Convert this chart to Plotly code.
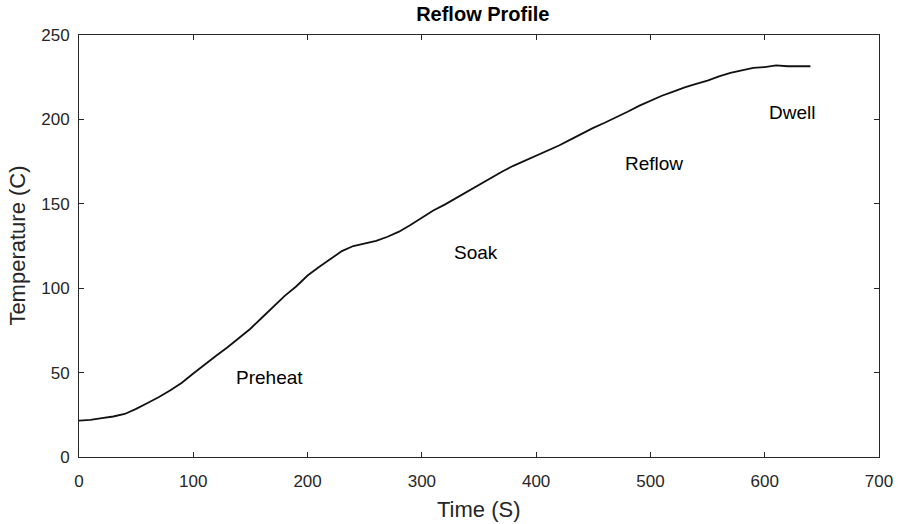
import plotly.graph_objects as go

time_s = list(range(0, 650, 10))
temp_c = [21.5, 22.0, 23.0, 24.0, 25.5, 28.5, 32.0, 35.5, 39.5, 44.0,
          49.5, 55.0, 60.0, 65.0, 70.5, 76.0, 82.5, 89.0, 95.5, 101.0,
          107.5, 112.5, 117.5, 122.0, 125.0, 126.5, 128.0, 130.5, 133.5, 137.5,
          142.0, 146.0, 149.5, 153.5, 157.5, 161.5, 165.5, 169.0, 172.5, 175.5,
          178.5, 181.5, 184.5, 188.0, 191.5, 195.0, 198.0, 201.5, 204.5, 208.0,
          211.0, 214.0, 216.5, 219.0, 221.0, 223.0, 225.5, 227.5, 229.0, 230.5,
          231.0, 232.0, 231.5, 231.5, 231.5]

phase_labels = ["Preheat", "Soak", "Reflow", "Dwell"]
phase_x = [136, 326, 476, 602]
phase_y = [47, 121, 174, 204]

x_ticks = [0, 100, 200, 300, 400, 500, 600, 700]
y_ticks = [0, 50, 100, 150, 200, 250]

font_family = "Liberation Sans, Arial, sans-serif"
axis_color = "#262626"

W, H = 905, 524
ML, MR, MT, MB = 79, 18, 35, 67
PW, PH = W - ML - MR, H - MT - MB

fig = go.Figure()
fig.add_trace(go.Scatter(x=time_s, y=temp_c, mode="lines",
                         line=dict(color="#111111", width=1.8), showlegend=False,
                         hoverinfo="skip"))

for t, xv, yv in zip(phase_labels, phase_x, phase_y):
    fig.add_annotation(x=xv, y=yv, text=t, showarrow=False, xanchor="left",
                       yanchor="middle",
                       font=dict(family=font_family, size=19, color="black"))

# axis titles placed as paper-referenced text
fig.add_annotation(xref="paper", yref="paper", x=0.5, y=-(509 - (H - MB)) / PH,
                   text="Time (S)", showarrow=False, xanchor="center", yanchor="middle",
                   font=dict(family=font_family, size=22, color=axis_color))
fig.add_annotation(xref="paper", yref="paper", x=(16 - ML) / PW, y=0.5,
                   text="Temperature (C)", showarrow=False, textangle=-90,
                   xanchor="center", yanchor="middle",
                   font=dict(family=font_family, size=22, color=axis_color))

axis_common = dict(showline=True, linecolor=axis_color, linewidth=1,
                   mirror="ticks", ticks="inside", ticklen=5, tickwidth=1,
                   tickcolor=axis_color, showgrid=False, zeroline=False,
                   tickfont=dict(family=font_family, size=17, color=axis_color))

fig.update_layout(
    width=W, height=H,
    margin=dict(l=ML, r=MR, t=MT, b=MB),
    paper_bgcolor="white", plot_bgcolor="white",
    title=dict(text="<b>Reflow Profile</b>", x=0.5335, xanchor="center",
               y=0.987, yanchor="top",
               font=dict(family=font_family, size=20, color="black")),
    xaxis=dict(range=[0, 700], tickvals=x_ticks, ticklabelstandoff=9, **axis_common),
    yaxis=dict(range=[0, 250], tickvals=y_ticks, ticklabelstandoff=5, **axis_common),
)

fig.write_html("out.html")
